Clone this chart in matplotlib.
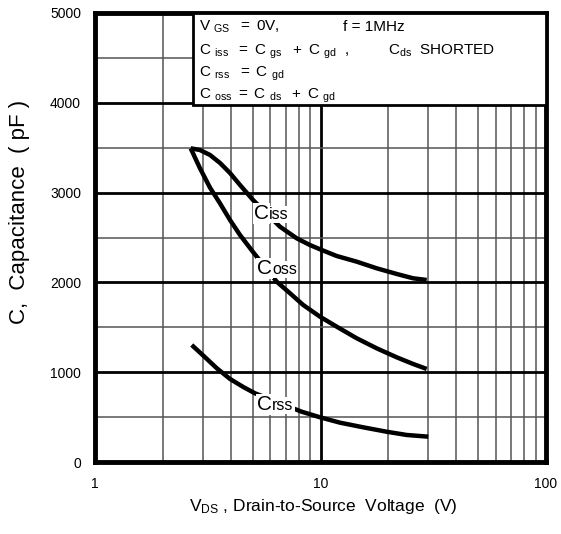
import matplotlib
matplotlib.use("Agg")
import matplotlib.pyplot as plt
from matplotlib.ticker import MultipleLocator, LogLocator, FixedLocator, FixedFormatter, NullFormatter
from matplotlib.patches import Rectangle
from matplotlib.transforms import offset_copy

plt.rcParams['font.family'] = ['Liberation Sans', 'DejaVu Sans']
plt.rcParams['mathtext.fontset'] = 'custom'
plt.rcParams['mathtext.rm'] = 'Liberation Sans'
plt.rcParams['mathtext.it'] = 'Liberation Sans'

# ---- data ----
ciss_v = [2.657, 2.922, 3.236, 3.584, 3.969, 4.395, 5.02, 6.614, 7.843, 8.98,
          10.12, 11.80, 14.47, 17.75, 21.77, 25.72, 29.58]
ciss_c = [3493, 3474, 3419, 3330, 3218, 3085, 2918, 2620, 2491, 2416,
          2361, 2294, 2231, 2157, 2094, 2046, 2027]

coss_v = [2.657, 2.922, 3.236, 3.584, 3.969, 4.395, 5.02, 6.394, 7.325, 8.387,
          9.95, 11.80, 14.47, 17.75, 21.77, 25.79, 29.58]
coss_c = [3493, 3270, 3055, 2880, 2695, 2528, 2339, 2008, 1879, 1748,
          1618, 1507, 1378, 1266, 1166, 1091, 1036]

crss_v = [2.685, 3.021, 3.465, 3.969, 4.547, 5.123, 8.251, 9.95, 12.20,
          15.48, 19.66, 24.11, 30.06]
crss_c = [1303, 1185, 1045, 925, 835, 765, 560, 498, 438,
          386, 337, 301, 282]

x_ticks = [1, 10, 100]
x_tick_labels = ["1", "10", "100"]
y_ticks = [0, 1000, 2000, 3000, 4000, 5000]
y_tick_labels = ["0", "1000", "2000", "3000", "4000", "5000"]

fig = plt.figure(figsize=(5.61, 5.34), dpi=100)
ax = fig.add_axes([95/561, 1-462/534, 451/561, 449/534])

ax.set_xscale('log')
ax.set_xlim(1, 100)
ax.set_ylim(0, 5000)

ax.xaxis.set_major_locator(FixedLocator(x_ticks))
ax.xaxis.set_major_formatter(FixedFormatter(x_tick_labels))
ax.xaxis.set_minor_locator(LogLocator(base=10, subs=range(2, 10)))
ax.xaxis.set_minor_formatter(NullFormatter())
ax.yaxis.set_major_locator(FixedLocator(y_ticks))
ax.yaxis.set_major_formatter(FixedFormatter(y_tick_labels))
ax.yaxis.set_minor_locator(MultipleLocator(500))

ax.set_axisbelow(True)
ax.grid(which='major', color='black', lw=2.0)
ax.grid(which='minor', color='#555555', lw=1.1)
ax.tick_params(which='both', length=0)
ax.tick_params(axis='x', pad=11, labelsize=10)
ax.tick_params(axis='y', pad=10, labelsize=10)

for s in ax.spines.values():
    s.set_linewidth(3.5)
    s.set_color('black')

kw = dict(color='black', lw=3.2, solid_capstyle='butt', solid_joinstyle='round', zorder=4)
ax.plot(ciss_v, ciss_c, **kw)
ax.plot(coss_v, coss_c, **kw)
ax.plot(crss_v, crss_c, **kw)

# curve labels with white background
def curve_label(x, y, sub):
    bb = dict(facecolor='white', edgecolor='none', pad=1.0)
    ax.text(x, y, 'C', fontsize=15, va='baseline', ha='left', bbox=bb, zorder=5)
    tr = offset_copy(ax.transData, fig=fig, x=10.8, y=0, units='points')
    ax.text(x, y, sub, fontsize=11.5, va='baseline', ha='left', transform=tr, bbox=bb, zorder=5)

curve_label(5.07, 2706, 'iss')
curve_label(5.23, 2094, 'oss')
curve_label(5.23, 579, 'rss')

# condition box
ax.add_patch(Rectangle((0.217, 0.795), 0.783, 0.205, transform=ax.transAxes,
                       facecolor='white', edgecolor='black', lw=2.0, zorder=3))

def tx(px):
    return (px - 95) / 451

def ty(py):
    return (462 - py) / 449

tkw = dict(transform=ax.transAxes, fontsize=11, va='baseline', ha='left', zorder=6)
ax.text(tx(199), ty(31), r'$\mathregular{V\ _{GS}\ \ =\ 0V,}$', **tkw)
ax.text(tx(343), ty(31), 'f = 1MHz', **tkw)
ax.text(tx(199), ty(55), r'$\mathregular{C\ _{iss}\ \ =\ C\ _{gs}\ \ +\ C\ _{gd}\ \ ,}$', **tkw)
ax.text(tx(388), ty(55), r'$\mathregular{C_{ds}}$  SHORTED', **tkw)
ax.text(tx(199), ty(77), r'$\mathregular{C\ _{rss}\ \ =\ C\ _{gd}}$', **tkw)
ax.text(tx(199), ty(99), r'$\mathregular{C\ _{oss}\ =\ C\ _{ds}\ \ +\ C\ _{gd}}$', **tkw)

ax.set_ylabel('C,  Capacitance  ( pF )', fontsize=16)
ax.yaxis.set_label_coords((20-95)/451, (462-212)/449)
ax.yaxis.label.set_va('center')
ax.set_xlabel(r'$\mathregular{V_{DS}}$ , Drain-to-Source  Voltage  (V)', fontsize=12.5)
ax.xaxis.set_label_coords((323-95)/451, (462-507)/449)
ax.xaxis.label.set_va('center')

fig.savefig('out.png', dpi=100)
